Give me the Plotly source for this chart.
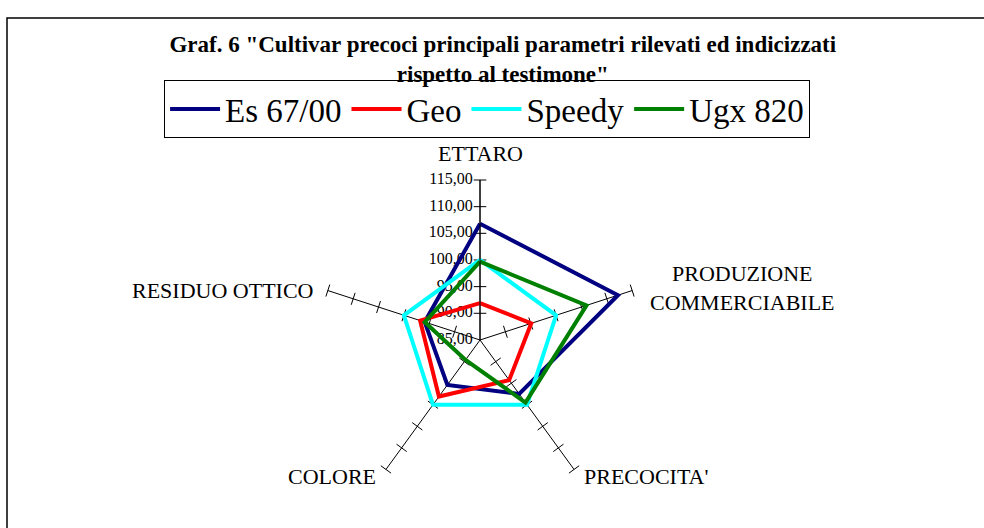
import plotly.graph_objects as go

# Graf. 6 - cultivar precoci, parametri indicizzati (testimone = 100)
categories = ["ETTARO", "PRODUZIONE COMMERCIABILE", "PRECOCITA'", "COLORE", "RESIDUO OTTICO"]
category_labels = ["ETTARO", "PRODUZIONE<br>COMMERCIABILE", "PRECOCITA'", "COLORE", "RESIDUO OTTICO"]
es_67_00 = [106.8, 112.2, 97.5, 95.4, 95.9]
geo = [91.9, 95.1, 94.3, 98.1, 96.8]
speedy = [100.0, 100.0, 100.0, 100.0, 100.0]
ugx_820 = [99.7, 106.0, 99.5, 89.6, 95.9]
tick_vals = [85, 90, 95, 100, 105, 110, 115]

series = [
    ("Es 67/00", es_67_00, "#000080"),
    ("Geo", geo, "#FF0000"),
    ("Speedy", speedy, "#00FFFF"),
    ("Ugx 820", ugx_820, "#008000"),
]

serif = "Liberation Serif, Times New Roman, serif"
W, H = 984, 528
fig = go.Figure()

# radial value labels (comma decimals) along the ETTARO spoke, under the lines;
# invisible markers push the text a few px off the axis
fig.add_trace(go.Scatterpolar(
    r=tick_vals, theta=[categories[0]] * len(tick_vals),
    mode="markers+text",
    marker=dict(size=10, color="rgba(0,0,0,0)"),
    text=[f"{v:.2f}".replace(".", ",") for v in tick_vals],
    textposition="middle left",
    textfont=dict(size=16, family=serif, color="black"),
    showlegend=False, hoverinfo="skip",
))

# small cross ticks on every spoke
spoke_angles = [0, 72, 144, 216, 288]
for cat, ang in zip(categories, spoke_angles):
    fig.add_trace(go.Scatterpolar(
        r=tick_vals[1:], theta=[cat] * (len(tick_vals) - 1),
        mode="markers",
        marker=dict(symbol="line-ew", size=9, angle=ang,
                    line=dict(color="black", width=1)),
        showlegend=False, hoverinfo="skip",
    ))

for name, vals, color in series:
    fig.add_trace(go.Scatterpolar(
        r=vals + vals[:1], theta=categories + categories[:1],
        mode="lines", name=name,
        line=dict(color=color, width=4),
    ))

# category labels placed next to the spoke ends (pixel positions)
label_pos = [
    (480, 153, "center"),
    (742, 288, "center"),
    (582, 476, "left"),
    (378, 476, "right"),
    (316, 290, "right"),
]
annotations = []
for text, (px_x, px_y, anchor) in zip(category_labels, label_pos):
    annotations.append(dict(
        text=text, x=px_x / W, y=1 - px_y / H, xref="paper", yref="paper",
        xanchor=anchor, yanchor="middle", showarrow=False,
        font=dict(size=22, family=serif, color="black"),
    ))

fig.update_layout(
    width=W, height=H,
    paper_bgcolor="white",
    margin=dict(l=0, r=0, t=0, b=0),
    font=dict(family=serif, color="black"),
    title=dict(
        text="<b>Graf. 6 \"Cultivar precoci principali parametri rilevati ed indicizzati<br>"
             "rispetto al testimone\"</b>",
        x=0.511, xanchor="center", y=1 - 52 / H, yanchor="middle",
        font=dict(size=23, family=serif),
    ),
    legend=dict(
        orientation="h", x=0.495, xanchor="center", y=1 - 109 / H, yanchor="middle",
        bordercolor="black", borderwidth=1, bgcolor="rgba(0,0,0,0)",
        font=dict(size=33, family=serif),
        itemwidth=50,
    ),
    annotations=annotations,
    polar=dict(
        domain=dict(x=[320 / W, 640 / W], y=[28 / H, 348 / H]),
        bgcolor="white",
        gridshape="linear",
        radialaxis=dict(
            range=[84.99, 115], tickvals=tick_vals,
            angle=90, showticklabels=False,
            showline=True, linecolor="black", linewidth=1,
            showgrid=False, ticks="",
        ),
        angularaxis=dict(
            rotation=90, direction="clockwise",
            showline=False, showgrid=True, gridcolor="black", gridwidth=1,
            ticks="", showticklabels=False,
        ),
    ),
    shapes=[dict(
        type="rect", xref="paper", yref="paper",
        x0=7 / W, x1=1.02, y0=-0.02, y1=1 - 18 / H,
        line=dict(color="black", width=1.5),
    )],
)

fig.write_html(
    "out.html",
    config={"displayModeBar": False},
    post_script="document.body.style.margin='0';document.body.style.overflow='hidden';",
)
